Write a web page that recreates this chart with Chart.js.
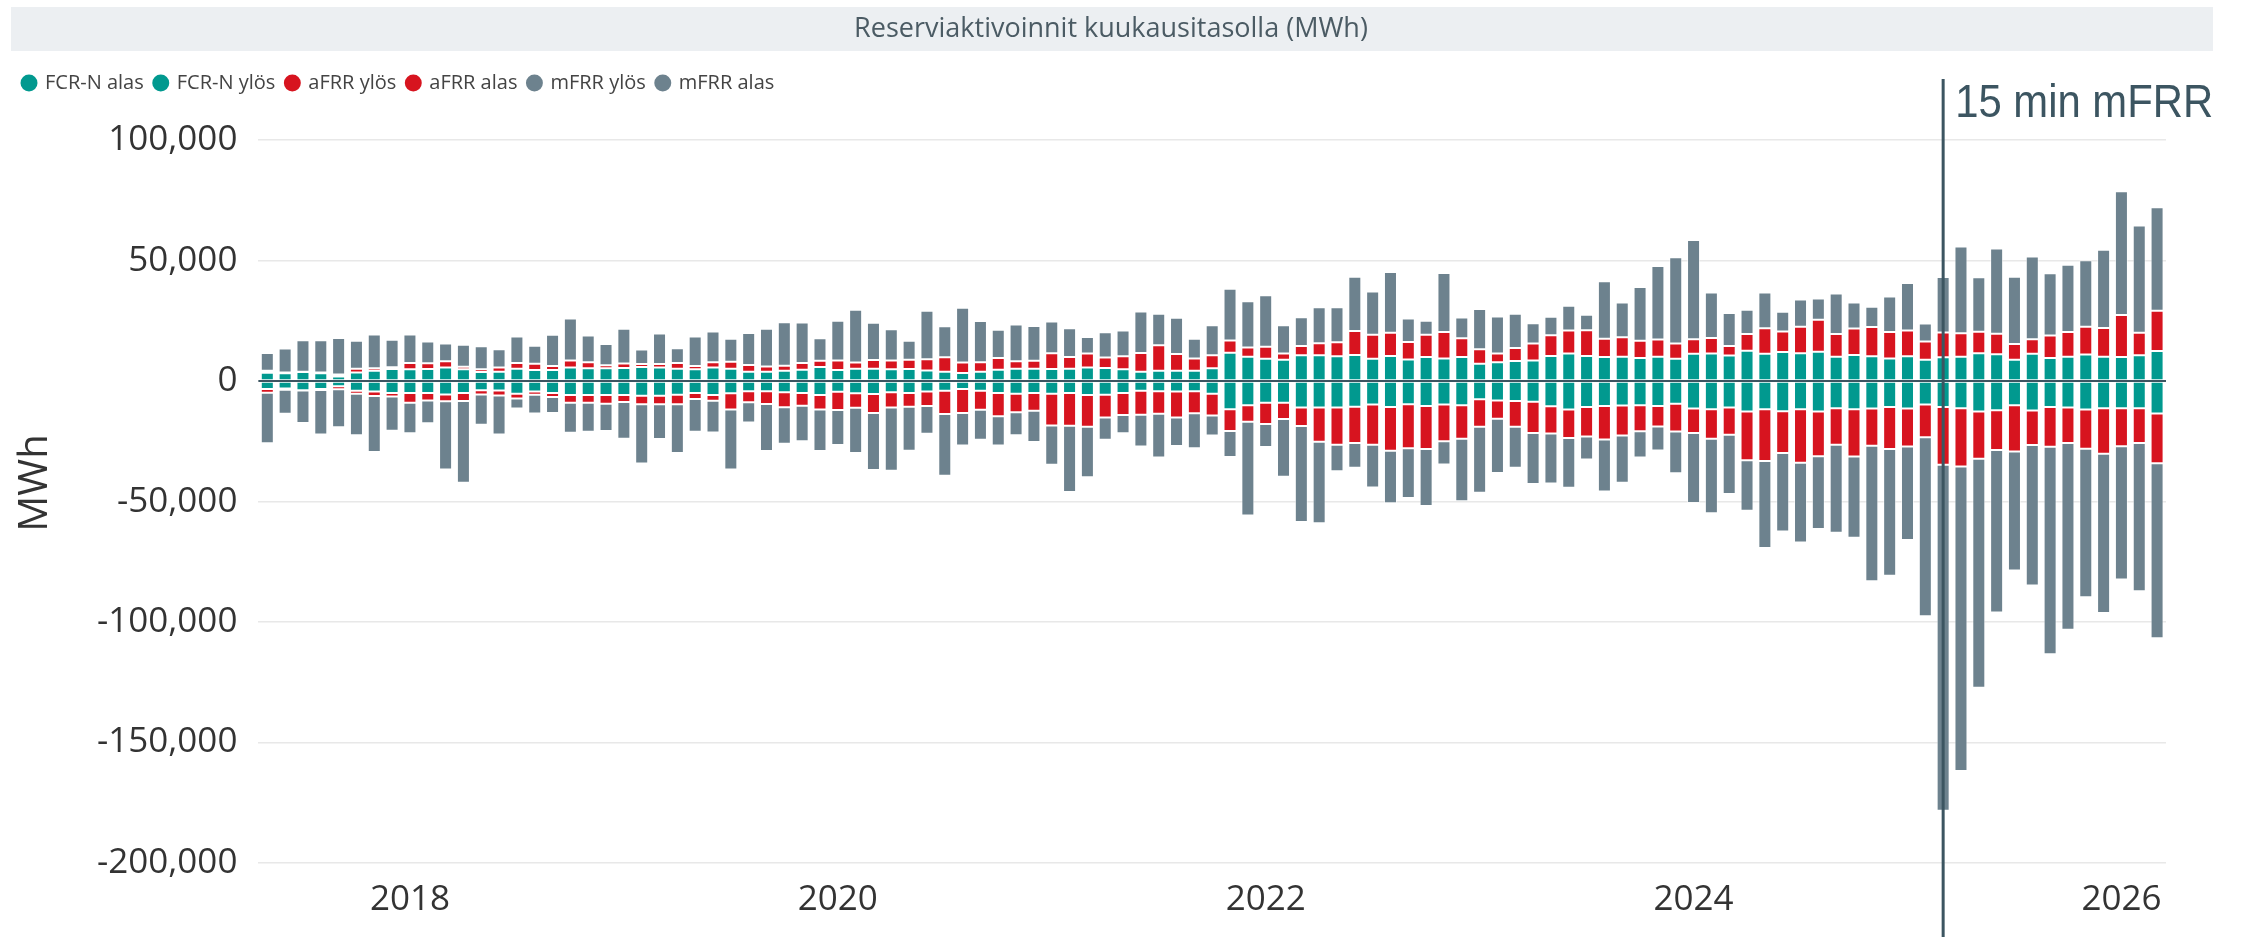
<!DOCTYPE html>
<html>
<head>
<meta charset="utf-8">
<script src="https://cdn.jsdelivr.net/npm/chart.js@4.4.1/dist/chart.umd.min.js"></script>
<style>
  html, body { margin: 0; padding: 0; background: #fff; }
  canvas { display: block; }
</style>
</head>
<body>
<canvas id="chart" width="2242" height="937"></canvas>
<script>
// monthly categories
const months = [
  '2017-05', '2017-06', '2017-07', '2017-08', '2017-09', '2017-10', '2017-11', '2017-12',
  '2018-01', '2018-02', '2018-03', '2018-04', '2018-05', '2018-06', '2018-07', '2018-08', '2018-09', '2018-10', '2018-11', '2018-12',
  '2019-01', '2019-02', '2019-03', '2019-04', '2019-05', '2019-06', '2019-07', '2019-08', '2019-09', '2019-10', '2019-11', '2019-12',
  '2020-01', '2020-02', '2020-03', '2020-04', '2020-05', '2020-06', '2020-07', '2020-08', '2020-09', '2020-10', '2020-11', '2020-12',
  '2021-01', '2021-02', '2021-03', '2021-04', '2021-05', '2021-06', '2021-07', '2021-08', '2021-09', '2021-10', '2021-11', '2021-12',
  '2022-01', '2022-02', '2022-03', '2022-04', '2022-05', '2022-06', '2022-07', '2022-08', '2022-09', '2022-10', '2022-11', '2022-12',
  '2023-01', '2023-02', '2023-03', '2023-04', '2023-05', '2023-06', '2023-07', '2023-08', '2023-09', '2023-10', '2023-11', '2023-12',
  '2024-01', '2024-02', '2024-03', '2024-04', '2024-05', '2024-06', '2024-07', '2024-08', '2024-09', '2024-10', '2024-11', '2024-12',
  '2025-01', '2025-02', '2025-03', '2025-04', '2025-05', '2025-06', '2025-07', '2025-08', '2025-09', '2025-10', '2025-11', '2025-12',
  '2026-01', '2026-02', '2026-03'
];

const yearTicks = ['2018', '2020', '2022', '2024', '2026'];
const yTicks = [100000, 50000, 0, -50000, -100000, -150000, -200000];
const markerMonth = '2025-03';
const markerLabel = '15 min mFRR';

// MWh per month
const fcrDown = [
  -3300, -3100, -3800, -3300, -2200, -4000, -4300, -4900, -5000, -4900, -5600, -5000, -3800, -3900, -5300, -4300, -4900, -5800,
  -5800, -5800, -5800, -6100, -6100, -5700, -4900, -5800, -5100, -4200, -4200, -4600, -4900, -5800, -4400, -5100, -5400, -4600,
  -4900, -4300, -4000, -3300, -4000, -4900, -5300, -4900, -5300, -4900, -5800, -5700, -4900, -4000, -4200, -4300, -4200, -5300,
  -11700, -10000, -9000, -9000, -11000, -11000, -11000, -10700, -9700, -10800, -9600, -10300, -9700, -10000, -7500, -8100, -8300, -8600,
  -10400, -11800, -10800, -10300, -10100, -10000, -10300, -9400, -11400, -11700, -11000, -12600, -11700, -12500, -11700, -12600, -11300,
  -11700, -11400, -10800, -11400, -9700, -10800, -11300, -12600, -12100, -10000, -12200, -10800, -11000, -11800, -11300, -11300, -11300, -13500
];
const fcrUp = [
  3500, 3200, 3800, 3200, 1900, 3600, 4300, 5000, 4900, 5000, 5600, 4900, 3800, 3900, 5100, 4600, 4600, 5600,
  5300, 5300, 5400, 5800, 5600, 5100, 4900, 5600, 5100, 3900, 3900, 4300, 4700, 5800, 4600, 5100, 5100, 4900,
  5000, 4400, 3900, 3300, 3900, 4700, 5100, 5100, 5000, 5100, 5600, 5400, 4900, 3900, 4300, 4300, 4300, 5300,
  11800, 10100, 9300, 8900, 10700, 10700, 10300, 10800, 9300, 10400, 9000, 10000, 9400, 10000, 7200, 7800, 8300, 8500,
  10400, 11400, 10400, 10000, 10100, 9600, 10100, 9300, 11300, 11400, 10600, 12600, 11300, 12100, 11500, 12200, 10100,
  10800, 10300, 9400, 10300, 8900, 9900, 10100, 11500, 11100, 8900, 11300, 9600, 10100, 11000, 10100, 10000, 10700, 12500
];
const afrrUp = [
  800, 400, 100, 400, 800, 1500, 1000, 700, 2600, 2400, 2600, 1000, 1100, 1700, 2400, 2600, 1700, 2900,
  2500, 1300, 1900, 1300, 1500, 2400, 1400, 2200, 2900, 2800, 2100, 2100, 2800, 2600, 3900, 2600, 3600, 3600,
  3800, 4700, 6000, 4400, 3900, 4900, 3100, 3300, 6500, 4900, 5800, 4400, 5400, 7800, 10600, 6900, 5100, 5400,
  5000, 3800, 4900, 2500, 3900, 5000, 5800, 10000, 9900, 9700, 7200, 9200, 11000, 7800, 6000, 3600, 5400, 7100,
  8600, 9600, 10700, 7600, 8100, 7100, 7200, 6300, 6100, 6500, 4000, 6900, 10600, 8500, 11000, 13200, 9400,
  11000, 12100, 11000, 10700, 7500, 10300, 9700, 9000, 8500, 6500, 6100, 9300, 10300, 11500, 11900, 17400, 9400, 16700
];
const afrrDown = [
  -1500, -500, -100, -400, -1200, -1300, -1900, -1500, -4000, -3200, -2800, -3300, -1800, -2100, -1900, -1400, -1700, -3200,
  -3200, -3600, -2900, -3500, -3500, -3900, -2500, -2400, -6700, -4600, -5300, -6300, -5300, -6000, -7600, -6000, -7800, -6400,
  -5800, -6000, -9700, -10000, -7900, -9700, -7600, -7400, -13100, -13600, -13200, -9400, -9200, -10000, -9400, -10800, -9200, -9000,
  -9000, -6900, -8800, -6700, -7600, -14200, -15400, -15000, -16700, -18100, -18300, -17900, -15300, -13900, -11500, -7500, -10700, -12900,
  -11400, -11800, -12200, -13900, -12500, -10800, -8600, -11500, -10100, -12200, -11300, -20300, -21500, -17400, -22200, -18600, -15100,
  -19600, -15400, -17400, -15800, -13600, -23900, -24200, -19600, -16500, -19200, -14300, -16500, -14700, -16300, -18900, -15800, -14400, -20600
];
const mfrrUp = [
  7400, 9900, 13000, 13300, 15200, 11600, 14000, 11500, 11800, 9000, 7400, 9200, 9500, 7600, 11000, 7500, 12900, 17500,
  11100, 8800, 14400, 6000, 12600, 6100, 12200, 12800, 9600, 13300, 15700, 18000, 16800, 9400, 16500, 21900, 15500, 13000,
  7900, 20100, 12900, 22700, 17100, 11700, 15300, 14500, 13200, 11900, 6900, 10500, 10700, 17200, 13000, 15100, 8200, 12500,
  21500, 19200, 21400, 11800, 11900, 14900, 14500, 22500, 18000, 25200, 9800, 5800, 24500, 8600, 16700, 15400, 14200, 8400,
  7700, 10300, 6400, 23800, 14400, 22300, 30500, 35800, 41100, 18900, 13600, 10100, 14900, 8200, 11400, 8900, 16800,
  10800, 8400, 14700, 19700, 7500, 23000, 36000, 22600, 35400, 27900, 34300, 25800, 27900, 27600, 32500, 51400, 44500, 42900
];
const mfrrDown = [
  -21000, -10000, -13500, -18500, -15800, -17200, -23200, -14200, -12700, -9400, -28300, -33900, -12500, -16200, -4200, -7800, -6600, -12400,
  -12000, -11300, -15200, -24600, -14400, -20300, -13600, -13100, -24900, -8400, -19500, -15100, -14800, -17200, -14500, -18800, -23700, -26200,
  -18200, -11600, -25600, -13400, -12400, -12100, -9600, -13000, -16300, -27500, -20900, -9200, -7600, -13200, -18100, -11800, -14500, -8300,
  -10800, -38900, -9600, -24000, -39900, -33800, -11000, -10300, -17800, -21800, -20600, -23600, -9600, -26000, -27300, -22500, -17000, -21200,
  -20700, -20700, -9500, -21600, -19600, -10900, -9900, -17400, -29100, -31000, -24600, -20900, -36100, -32500, -33100, -30200, -36500,
  -33700, -56300, -52600, -38800, -74300, -143600, -126300, -95100, -67400, -49400, -58300, -86100, -77500, -61600, -66000, -55200, -61500, -72600
];

const TEAL = '#01998f';
const RED = '#d7141f';
const GREY = '#6d828e';
const SLATE = '#3c5561';
const FONT = '"Open Sans", "Noto Sans", sans-serif';

function series(label, data, color) {
  return {
    label,
    data,
    backgroundColor: color,
    borderColor: 'rgba(255,255,255,0.55)',
    borderWidth: 1,
    borderSkipped: false,
    categoryPercentage: 1,
    barPercentage: 0.73
  };
}

const titleBar = {
  id: 'titleBar',
  beforeDraw(chart) {
    const { ctx, width } = chart;
    ctx.save();
    ctx.fillStyle = '#fff';
    ctx.fillRect(0, 0, width, chart.height);
    ctx.fillStyle = '#eceff2';
    ctx.fillRect(11, 7, 2202, 44);
    ctx.fillStyle = '#4b5b64';
    ctx.font = '27px ' + FONT;
    ctx.textAlign = 'center';
    ctx.textBaseline = 'middle';
    ctx.fillText('Reserviaktivoinnit kuukausitasolla (MWh)', 1111, 29);
    ctx.restore();
  }
};

const marker = {
  id: 'marker',
  afterDatasetsDraw(chart) {
    const { ctx, chartArea: a, scales: { x, y } } = chart;
    ctx.save();
    ctx.strokeStyle = SLATE;

    const y0 = y.getPixelForValue(0);
    ctx.lineWidth = 2;
    ctx.beginPath();
    ctx.moveTo(a.left, y0);
    ctx.lineTo(a.right, y0);
    ctx.stroke();

    const mx = x.getPixelForValue(months.indexOf(markerMonth));
    ctx.lineWidth = 3;
    ctx.beginPath();
    ctx.moveTo(mx, 79);
    ctx.lineTo(mx, chart.height);
    ctx.stroke();

    ctx.fillStyle = SLATE;
    ctx.font = '46px "Liberation Sans", Arial, sans-serif';
    ctx.textBaseline = 'alphabetic';
    const w = ctx.measureText(markerLabel).width;
    ctx.translate(mx + 12, 117);
    ctx.scale(258 / w, 1);
    ctx.fillText(markerLabel, 0, 0);
    ctx.restore();
  }
};

new Chart(document.getElementById('chart'), {
  type: 'bar',
  data: {
    labels: months,
    datasets: [
      series('FCR-N alas', fcrDown, TEAL),
      series('FCR-N ylös', fcrUp, TEAL),
      series('aFRR ylös', afrrUp, RED),
      series('aFRR alas', afrrDown, RED),
      series('mFRR ylös', mfrrUp, GREY),
      series('mFRR alas', mfrrDown, GREY)
    ]
  },
  options: {
    responsive: false,
    animation: false,
    devicePixelRatio: 1,
    layout: { padding: { top: 62, left: 12, right: 76, bottom: 0 } },
    plugins: {
      legend: {
        position: 'top',
        align: 'start',
        labels: {
          usePointStyle: true,
          pointStyle: 'circle',
          boxWidth: 12,
          boxHeight: 12,
          padding: 11,
          color: '#444',
          font: { family: FONT, size: 20 },
          generateLabels: chart => Chart.defaults.plugins.legend.labels.generateLabels(chart)
            .map(l => ({ ...l, strokeStyle: l.fillStyle, lineWidth: 0 }))
        }
      },
      tooltip: { enabled: false }
    },
    scales: {
      x: {
        stacked: true,
        grid: { display: false, drawTicks: false },
        border: { display: false },
        ticks: {
          autoSkip: false,
          maxRotation: 0,
          padding: 16,
          color: '#333',
          font: { family: FONT, size: 35 },
          callback: (v, i) => {
            const m = months[i];
            const yr = m.slice(0, 4);
            return m.endsWith('-01') && yearTicks.includes(yr) ? yr : '';
          }
        }
      },
      y: {
        stacked: true,
        min: -200000,
        max: 115400,
        afterBuildTicks: s => { s.ticks = yTicks.map(v => ({ value: v })); },
        grid: { color: '#e8e8e8', lineWidth: 1.5, drawTicks: false },
        border: { display: false },
        ticks: {
          padding: 21,
          color: '#333',
          font: { family: FONT, size: 35 },
          callback: v => v.toLocaleString('en-US')
        },
        title: {
          display: true,
          text: 'MWh',
          color: '#333',
          font: { family: FONT, size: 40 },
          padding: { top: 0, bottom: 16 }
        }
      }
    }
  },
  plugins: [titleBar, marker]
});
</script>
</body>
</html>
